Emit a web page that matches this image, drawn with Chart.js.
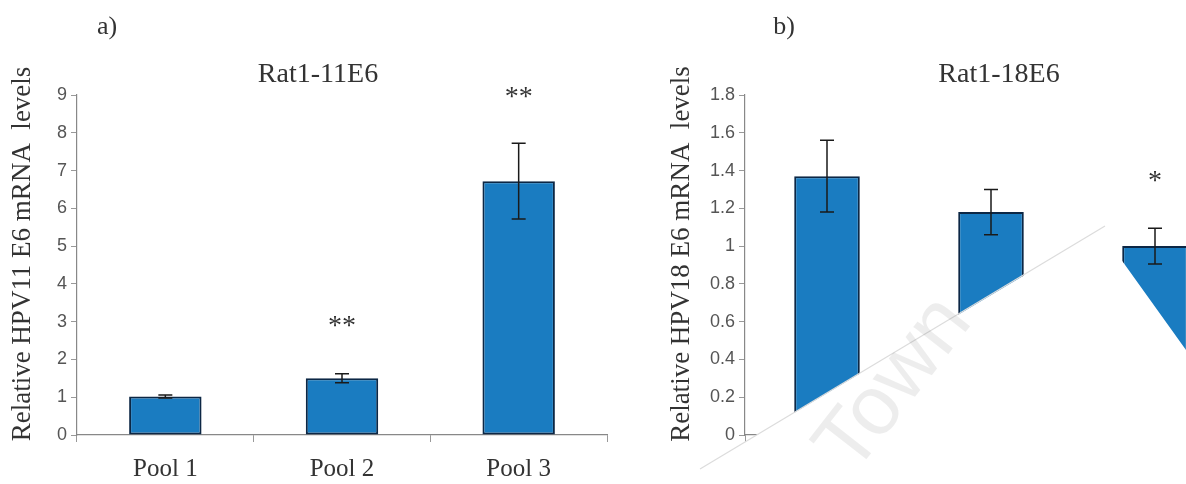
<!DOCTYPE html>
<html>
<head>
<meta charset="utf-8">
<script src="https://cdn.jsdelivr.net/npm/chart.js@4.4.1/dist/chart.umd.min.js"></script>
<style>
    html, body { margin: 0; padding: 0; background: #fff; overflow: hidden; width: 1186px; height: 484px; }
    canvas { position: absolute; top: 0; }
    #chartA { left: 0; }
    #chartB { left: 640px; }
</style>
</head>
<body>
<canvas id="chartA" width="640" height="484"></canvas>
<canvas id="chartB" width="600" height="484"></canvas>
<script>
// Data
const pools = ['Pool 1', 'Pool 2', 'Pool 3'];

const e6_11 = [1.02, 1.50, 6.72];
const e6_11Err = [0.04, 0.12, 1.0];
const e6_11Stars = ['', '**', '**'];
const e6_11StarY = [null, 3.0, 9.05];

const e6_18 = [1.37, 1.18, 1.0];
const e6_18Err = [0.19, 0.12, 0.095];
const e6_18Stars = ['', '', '*'];
const e6_18StarY = [null, null, 1.37];

const serif = "'Liberation Serif', 'Times New Roman', serif";
const sans = "'Liberation Sans', Arial, sans-serif";
const barBlue = '#1a7cc1';
const barEdge = '#0c2745';

// error bars, stars, panel letters and titles
const extras = {
    id: 'extras',
    afterDatasetsDraw(chart, args, opts) {
        const ctx = chart.ctx;
        const x = chart.scales.x, y = chart.scales.y;
        const vals = chart.data.datasets[0].data;
        ctx.save();
        ctx.strokeStyle = '#1a1a1a';
        ctx.lineWidth = 1.5;
        vals.forEach((v, i) => {
            const cx = x.getPixelForValue(i);
            const top = y.getPixelForValue(v + opts.err[i]);
            const bot = y.getPixelForValue(v - opts.err[i]);
            ctx.beginPath();
            ctx.moveTo(cx, top); ctx.lineTo(cx, bot);
            ctx.moveTo(cx - 7, top); ctx.lineTo(cx + 7, top);
            ctx.moveTo(cx - 7, bot); ctx.lineTo(cx + 7, bot);
            ctx.stroke();
        });
        ctx.fillStyle = '#333';
        ctx.textAlign = 'center';
        ctx.textBaseline = 'middle';
        ctx.font = '28px ' + serif;
        opts.stars.forEach((s, i) => {
            if (!s) return;
            ctx.fillText(s, x.getPixelForValue(i), y.getPixelForValue(opts.starY[i]) + 5);
        });
        ctx.font = '26px ' + serif;
        ctx.fillText(opts.letter, opts.letterX, 27);
        ctx.font = '28px ' + serif;
        ctx.fillText(opts.title, opts.titleX, 75);
        // y axis title
        ctx.translate(opts.yTitleX, 254);
        ctx.rotate(-Math.PI / 2);
        ctx.font = '27px ' + serif;
        ctx.fillText(opts.yTitle, 0, 0);
        ctx.restore();
    },
    afterDraw(chart, args, opts) {
        if (!opts.watermark) return;
        // white watermark band lying over panel b in the scan
        const ctx = chart.ctx;
        ctx.save();
        ctx.fillStyle = '#fff';
        ctx.beginPath();
        ctx.moveTo(50, 475);
        ctx.lineTo(460, 230);
        ctx.lineTo(546, 350);
        ctx.lineTo(600, 350);
        ctx.lineTo(600, 484);
        ctx.lineTo(50, 484);
        ctx.closePath();
        ctx.fill();
        ctx.strokeStyle = '#dcdcdc';
        ctx.lineWidth = 1.2;
        ctx.beginPath();
        ctx.moveTo(60, 469);
        ctx.lineTo(465, 226);
        ctx.stroke();
        ctx.translate(255, 385);
        ctx.rotate(-52 * Math.PI / 180);
        ctx.fillStyle = 'rgba(0,0,0,0.07)';
        ctx.font = '84px ' + sans;
        ctx.textAlign = 'center';
        ctx.textBaseline = 'middle';
        ctx.fillText('Town', 0, 0);
        ctx.restore();
    }
};

function makeChart(id, values, cfg) {
    return new Chart(document.getElementById(id), {
        type: 'bar',
        data: {
            labels: pools,
            datasets: [{
                data: values,
                backgroundColor: barBlue,
                borderColor: barEdge,
                borderWidth: 2,
                borderSkipped: false,
                barPercentage: cfg.barPct,
                categoryPercentage: 1
            }]
        },
        options: {
            responsive: false,
            animation: false,
            layout: { padding: { top: 95, left: 0, right: cfg.padRight, bottom: 0 } },
            plugins: {
                legend: { display: false },
                tooltip: { enabled: false },
                extras: cfg.extras
            },
            scales: {
                x: {
                    afterFit: s => { s.height = 49; },
                    grid: { offset: true, drawOnChartArea: false, tickLength: 7, color: '#999' },
                    border: { color: '#888', width: 1.2 },
                    ticks: { display: cfg.showX, padding: 12, color: '#333', font: { family: serif, size: 25 } }
                },
                y: {
                    min: 0,
                    max: cfg.max,
                    afterFit: s => { s.width = cfg.yWidth; },
                    grid: { drawOnChartArea: false, tickLength: 6, color: '#999' },
                    border: { color: '#888', width: 1.2 },
                    ticks: {
                        stepSize: cfg.step,
                        padding: 4,
                        color: '#555',
                        font: { family: sans, size: 18 },
                        callback: v => String(+v.toFixed(1))
                    }
                }
            }
        },
        plugins: [extras]
    });
}

makeChart('chartA', e6_11, {
    max: 9, step: 1, yWidth: 77, padRight: 33, barPct: 0.41, showX: true,
    extras: { err: e6_11Err, stars: e6_11Stars, starY: e6_11StarY,
              letter: 'a)', letterX: 107, title: 'Rat1-11E6', titleX: 318,
              yTitle: 'Relative HPV11 E6 mRNA  levels', yTitleX: 23, watermark: false }
});

makeChart('chartB', e6_18, {
    max: 1.8, step: 0.2, yWidth: 105, padRight: 3, barPct: 0.40, showX: false,
    extras: { err: e6_18Err, stars: e6_18Stars, starY: e6_18StarY,
              letter: 'b)', letterX: 144, title: 'Rat1-18E6', titleX: 359,
              yTitle: 'Relative HPV18 E6 mRNA  levels', yTitleX: 42, watermark: true }
});
</script>
</body>
</html>
